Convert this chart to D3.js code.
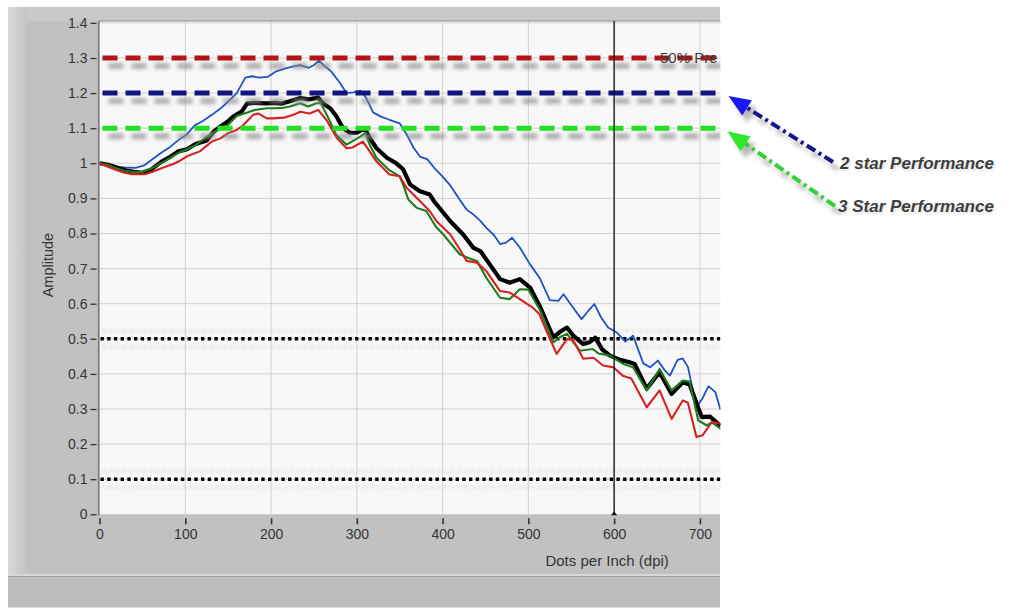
<!DOCTYPE html>
<html><head><meta charset="utf-8">
<script src="https://cdn.jsdelivr.net/npm/d3@7"></script>
<style>
html,body{margin:0;padding:0;background:#fff;}
svg{display:block;font-family:"Liberation Sans",Arial,sans-serif;}
</style></head><body>
<svg id="chart" width="1035" height="609"></svg>
<script>
// Axis ticks
const dpiTicks = [0, 100, 200, 300, 400, 500, 600, 700];
const ampTicks = d3.range(0, 15).map(i => i / 10);

// Reference levels
const dashedLevels = [1.3, 1.2, 1.1];
const dottedLevels = [0.5, 0.1];
const cursorDpi = 600;
const levelNote = "50% Pre";
const arrowNotes = ["2 star Performance", "3 Star Performance"];

// Measured response curves: [dpi, amplitude]
const blueSeries = [[0,1.0],[10,0.995],[20,0.99],[30,0.988],[42,0.987],[52,0.994],[62,1.012],[72,1.03],[82,1.046],[92,1.066],[102,1.083],[111,1.108],[121,1.121],[131,1.138],[141,1.156],[150,1.176],[160,1.2],[170,1.244],[178,1.248],[186,1.244],[196,1.246],[206,1.262],[216,1.27],[226,1.276],[234,1.28],[244,1.272],[250,1.28],[256,1.292],[262,1.278],[270,1.262],[280,1.23],[288,1.2],[296,1.202],[304,1.207],[311,1.186],[319,1.145],[328,1.133],[338,1.124],[350,1.114],[358,1.083],[366,1.045],[374,1.018],[382,1.012],[390,0.988],[400,0.962],[409,0.937],[420,0.896],[428,0.868],[436,0.854],[444,0.836],[451,0.816],[460,0.795],[467,0.77],[474,0.774],[481,0.788],[490,0.76],[502,0.712],[513,0.674],[525,0.61],[535,0.608],[541,0.627],[552,0.589],[562,0.556],[570,0.58],[577,0.599],[585,0.56],[593,0.532],[603,0.518],[613,0.492],[622,0.509],[634,0.43],[642,0.419],[651,0.438],[659,0.41],[665,0.395],[674,0.44],[680,0.444],[686,0.42],[696,0.306],[703,0.33],[710,0.365],[718,0.348],[724,0.298]];
const blackSeries = [[0,1.0],[10,0.996],[20,0.988],[30,0.98],[40,0.976],[50,0.973],[60,0.982],[72,1.004],[82,1.018],[92,1.034],[102,1.04],[112,1.055],[125,1.065],[133,1.09],[141,1.105],[150,1.12],[156,1.133],[166,1.148],[172,1.17],[180,1.172],[195,1.171],[205,1.172],[212,1.17],[222,1.177],[234,1.186],[244,1.182],[255,1.187],[262,1.168],[269,1.157],[276,1.135],[284,1.1],[292,1.087],[300,1.087],[309,1.1],[315,1.072],[323,1.043],[335,1.016],[346,1.0],[354,0.983],[362,0.94],[373,0.921],[385,0.911],[390,0.892],[400,0.862],[409,0.835],[424,0.797],[436,0.759],[444,0.75],[455,0.712],[467,0.67],[478,0.66],[490,0.67],[502,0.646],[514,0.589],[529,0.504],[537,0.52],[545,0.532],[552,0.51],[564,0.485],[571,0.49],[578,0.503],[586,0.47],[595,0.452],[607,0.44],[618,0.433],[624,0.428],[638,0.358],[653,0.405],[667,0.343],[680,0.376],[688,0.37],[702,0.277],[712,0.278],[724,0.252]];
const greenSeries = [[0,1.0],[10,0.995],[20,0.985],[30,0.978],[40,0.975],[50,0.975],[60,0.985],[72,1.0],[82,1.015],[92,1.03],[102,1.04],[111,1.05],[122,1.07],[131,1.085],[141,1.1],[150,1.11],[160,1.135],[169,1.142],[181,1.152],[195,1.157],[205,1.157],[214,1.158],[222,1.162],[234,1.171],[243,1.162],[253,1.171],[258,1.171],[265,1.138],[276,1.081],[288,1.053],[294,1.062],[304,1.076],[310,1.086],[315,1.053],[323,1.015],[337,0.982],[350,0.963],[354,0.939],[360,0.897],[370,0.873],[381,0.864],[392,0.82],[401,0.797],[410,0.77],[420,0.741],[430,0.73],[440,0.722],[451,0.674],[467,0.617],[478,0.613],[490,0.641],[500,0.64],[514,0.58],[529,0.49],[537,0.505],[545,0.514],[560,0.466],[575,0.471],[582,0.458],[595,0.452],[611,0.428],[622,0.419],[638,0.353],[653,0.414],[667,0.353],[680,0.381],[688,0.378],[698,0.268],[708,0.253],[714,0.262],[724,0.244]];
const redSeries = [[0,1.0],[10,0.99],[18,0.982],[28,0.974],[38,0.969],[53,0.969],[62,0.976],[72,0.986],[86,0.998],[92,1.005],[102,1.02],[117,1.034],[131,1.062],[141,1.071],[150,1.086],[160,1.095],[166,1.105],[172,1.12],[179,1.138],[185,1.142],[195,1.128],[203,1.128],[215,1.13],[226,1.138],[234,1.147],[245,1.142],[255,1.152],[265,1.122],[277,1.071],[288,1.043],[295,1.045],[307,1.062],[315,1.034],[323,1.005],[338,0.968],[350,0.963],[358,0.93],[370,0.901],[385,0.864],[393,0.835],[409,0.797],[420,0.755],[428,0.722],[440,0.717],[451,0.693],[467,0.636],[478,0.632],[490,0.613],[505,0.589],[513,0.57],[521,0.523],[533,0.457],[545,0.499],[552,0.497],[564,0.443],[576,0.446],[587,0.424],[599,0.419],[610,0.395],[620,0.387],[638,0.305],[653,0.353],[667,0.272],[680,0.324],[686,0.318],[696,0.22],[703,0.225],[714,0.263],[724,0.258]];

const svg = d3.select("#chart");
const plot = {left: 99.5, right: 720.5, top: 21, bottom: 514.3};

const x = d3.scaleLinear().domain([0, 724]).range([plot.left, plot.right]);
const y = d3.scaleLinear().domain([0, 1.4]).range([plot.bottom, 22.9]);

const defs = svg.append("defs");
defs.append("clipPath").attr("id", "plotClip")
  .append("rect").attr("x", plot.left).attr("y", plot.top)
  .attr("width", plot.right - plot.left).attr("height", plot.bottom - plot.top);
// Blur filters in user space so zero-height lines still render
defs.append("filter").attr("id", "soft").attr("filterUnits", "userSpaceOnUse")
  .attr("x", 0).attr("y", 0).attr("width", 1035).attr("height", 609)
  .append("feGaussianBlur").attr("stdDeviation", 2);
defs.append("filter").attr("id", "haze").attr("filterUnits", "userSpaceOnUse")
  .attr("x", 0).attr("y", 0).attr("width", 1035).attr("height", 609)
  .append("feGaussianBlur").attr("stdDeviation", 1.5);
const lg = defs.append("linearGradient").attr("id", "edge").attr("x1", 0).attr("x2", 1);
lg.append("stop").attr("offset", 0).attr("stop-color", "#d9d9d9");
lg.append("stop").attr("offset", 1).attr("stop-color", "#c4c4c4");

// Panel frame
svg.append("rect").attr("x", 8).attr("y", 7).attr("width", 712).attr("height", 568).attr("fill", "#c1c1c1");
svg.append("rect").attr("x", 8).attr("y", 7).attr("width", 712).attr("height", 14).attr("fill", "#c8c8c8");
svg.append("rect").attr("x", 8).attr("y", 7).attr("width", 18).attr("height", 567).attr("fill", "url(#edge)");
svg.append("rect").attr("x", 8).attr("y", 574).attr("width", 712).attr("height", 2).attr("fill", "#d8d8d8");
svg.append("rect").attr("x", 8).attr("y", 576).attr("width", 712).attr("height", 1.5).attr("fill", "#9e9e9e");
svg.append("rect").attr("x", 8).attr("y", 577.5).attr("width", 712).attr("height", 30).attr("fill", "#bcbcbc");

// Plot background
svg.append("rect").attr("x", plot.left).attr("y", plot.top)
  .attr("width", plot.right - plot.left).attr("height", plot.bottom - plot.top).attr("fill", "#f8f8f8");

// Grid
const grid = svg.append("g").attr("clip-path", "url(#plotClip)");
grid.selectAll(".gx").data(dpiTicks.filter(d => d > 0)).join("line")
  .attr("x1", d => x(d)).attr("x2", d => x(d)).attr("y1", plot.top).attr("y2", plot.bottom)
  .attr("stroke", "#d2d2d2").attr("stroke-width", 1);
grid.selectAll(".gy").data(ampTicks.filter(d => d > 0)).join("line")
  .attr("x1", plot.left).attr("x2", plot.right).attr("y1", d => y(d)).attr("y2", d => y(d))
  .attr("stroke", "#d2d2d2").attr("stroke-width", 1);

// Frame borders
svg.append("line").attr("x1", plot.left - 0.5).attr("x2", plot.right).attr("y1", plot.top).attr("y2", plot.top)
  .attr("stroke", "#8c8c8c").attr("stroke-width", 1.2);
svg.append("line").attr("x1", plot.left - 0.8).attr("x2", plot.left - 0.8).attr("y1", plot.top).attr("y2", plot.bottom + 1)
  .attr("stroke", "#7a7a7a").attr("stroke-width", 1.6);

// Axes
const axisColor = "#353535";
const yAxis = d3.axisLeft(y).tickValues(ampTicks).tickSize(6).tickPadding(3)
  .tickFormat(d => String(+d.toFixed(1)));
const gy = svg.append("g").attr("transform", `translate(${plot.left - 3},0)`).call(yAxis);
gy.select(".domain").remove();
gy.selectAll(".tick line").attr("stroke", axisColor).attr("stroke-width", 1.3);
gy.selectAll(".tick text").attr("fill", axisColor).attr("font-size", 14)
  .attr("font-family", "'Liberation Sans',Arial,sans-serif");

const xAxis = d3.axisBottom(x).tickValues(dpiTicks).tickSize(6).tickPadding(5);
const gx = svg.append("g").attr("transform", `translate(0,${plot.bottom + 4})`).call(xAxis);
gx.select(".domain").remove();
gx.selectAll(".tick line").attr("stroke", axisColor).attr("stroke-width", 1.6);
gx.selectAll(".tick text").attr("fill", axisColor).attr("font-size", 14)
  .attr("font-family", "'Liberation Sans',Arial,sans-serif");

svg.append("text").attr("transform", `translate(53,${y(0.71)}) rotate(-90)`)
  .attr("text-anchor", "middle").attr("fill", axisColor).attr("font-size", 14.5).text("Amplitude");
svg.append("text").attr("x", x(600) - 7).attr("y", 566)
  .attr("text-anchor", "middle").attr("fill", axisColor).attr("font-size", 15).text("Dots per Inch (dpi)");

// Drawing layer inside plot
const layer = svg.append("g").attr("clip-path", "url(#plotClip)");

// Dotted limits with faint halo
dottedLevels.forEach(v => {
  [-8, 8].forEach(off => {
    layer.append("line").attr("x1", plot.left + 3).attr("x2", plot.right).attr("y1", y(v) + off).attr("y2", y(v) + off)
      .attr("stroke", "#cfcfcf").attr("stroke-width", 3).attr("stroke-dasharray", "3.4,3.3")
      .attr("opacity", 0.55).attr("filter", "url(#haze)");
  });
  layer.append("line").attr("x1", plot.left + 1).attr("x2", plot.right).attr("y1", y(v)).attr("y2", y(v))
    .attr("stroke", "#000").attr("stroke-width", 3.4).attr("stroke-dasharray", "3.4,3.3");
});

// Series
const line = d3.line().x(d => x(d[0])).y(d => y(d[1]));
const seriesStyles = [
  {data: blueSeries, color: "#1f52c4", width: 1.8},
  {data: blackSeries, color: "#000000", width: 4.2},
  {data: greenSeries, color: "#1d7c1d", width: 2.1},
  {data: redSeries, color: "#d42222", width: 2.1}
];
seriesStyles.forEach(s => {
  layer.append("path").attr("d", line(s.data)).attr("fill", "none")
    .attr("stroke", s.color).attr("stroke-width", s.width).attr("stroke-linejoin", "round");
});

// Dashed performance levels with drop shadow
const dashedColors = ["#b31515", "#13137f", "#22e022"];
dashedLevels.forEach(v => {
  layer.append("line").attr("x1", plot.left + 3).attr("x2", plot.right).attr("y1", y(v)).attr("y2", y(v))
    .attr("transform", "translate(6,8)")
    .attr("stroke", "#8a8a8a").attr("stroke-width", 5).attr("stroke-dasharray", "15,8")
    .attr("opacity", 0.8).attr("filter", "url(#soft)");
});
dashedLevels.forEach((v, i) => {
  layer.append("line").attr("x1", plot.left + 3).attr("x2", plot.right).attr("y1", y(v)).attr("y2", y(v))
    .attr("stroke", dashedColors[i]).attr("stroke-width", 5).attr("stroke-dasharray", "15,8");
});

layer.append("text").attr("x", 660).attr("y", y(1.3) + 5).attr("fill", "#3c3c3c")
  .attr("font-size", 15).text(levelNote);

// Cursor at 600 dpi
layer.append("line").attr("x1", x(cursorDpi)).attr("x2", x(cursorDpi)).attr("y1", plot.top).attr("y2", plot.bottom)
  .attr("stroke", "#111").attr("stroke-width", 1.3);
svg.append("path")
  .attr("d", `M${x(cursorDpi) - 3},${plot.bottom + 1} L${x(cursorDpi)},${plot.bottom - 3} L${x(cursorDpi) + 3},${plot.bottom + 1} Z`)
  .attr("fill", "#111");

// Callout arrows pointing at the 1.2 and 1.1 levels
function callout(tip, tail, lineColor, headColor, label, labelPos) {
  const dx = tip[0] - tail[0], dy = tip[1] - tail[1];
  const len = Math.hypot(dx, dy);
  const ux = dx / len, uy = dy / len;
  const headLen = 22, headHalf = 9;
  const bx = tip[0] - ux * headLen, by = tip[1] - uy * headLen;
  const head = `M${tip[0]},${tip[1]} L${bx - uy * headHalf},${by + ux * headHalf} L${bx + uy * headHalf},${by - ux * headHalf} Z`;
  const g = svg.append("g");
  const sh = g.append("g").attr("transform", "translate(5,7)").attr("opacity", 0.6).attr("filter", "url(#soft)");
  sh.append("line").attr("x1", tail[0]).attr("y1", tail[1]).attr("x2", bx).attr("y2", by)
    .attr("stroke", "#888").attr("stroke-width", 4).attr("stroke-dasharray", "10,4,3,4");
  sh.append("path").attr("d", head).attr("fill", "#888");
  g.append("line").attr("x1", tail[0]).attr("y1", tail[1]).attr("x2", bx).attr("y2", by)
    .attr("stroke", lineColor).attr("stroke-width", 4).attr("stroke-dasharray", "10,4,3,4");
  g.append("path").attr("d", head).attr("fill", headColor);
  g.append("text").attr("x", labelPos[0] + 1.5).attr("y", labelPos[1] + 1.5).attr("fill", "#bdbdbd")
    .attr("font-size", 17).attr("font-weight", "bold").attr("font-style", "italic").attr("opacity", 0.5)
    .attr("filter", "url(#haze)").text(label);
  g.append("text").attr("x", labelPos[0]).attr("y", labelPos[1]).attr("fill", "#3e3e3e")
    .attr("font-size", 17).attr("font-weight", "bold").attr("font-style", "italic").text(label);
}
callout([plot.right + 8, y(1.2) + 3], [833, 162], "#16168c", "#1a1af0", arrowNotes[0], [840, 169]);
callout([plot.right + 7, y(1.1) + 3], [835, 206], "#35d035", "#2de82d", arrowNotes[1], [838, 212]);
</script></body></html>
